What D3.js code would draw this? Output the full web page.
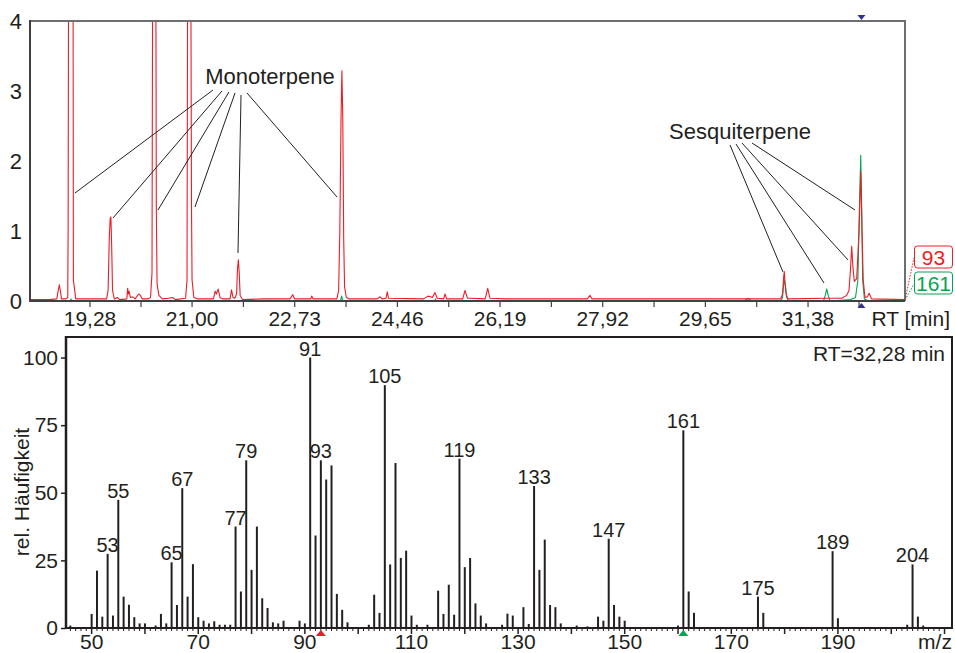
<!DOCTYPE html>
<html>
<head>
<meta charset="utf-8">
<script src="https://cdn.jsdelivr.net/npm/d3@7"></script>
<style>
  body { margin: 0; background: #fff; }
  svg text { font-family: "Liberation Sans", Arial, Helvetica, sans-serif; fill: #231f20; }
</style>
</head>
<body>
<svg id="chart" width="955" height="653"></svg>
<script>
// ---- chromatogram data (RT in min, intensity) ----
const rtTickLabels = ["19,28", "21,00", "22,73", "24,46", "26,19", "27,92", "29,65", "31,38"];
const intensityTicks = [0, 1, 2, 3, 4];

// ion trace m/z 93 (red)
const trace93 = [
  [18.27,0.02],[18.60,0.02],[18.72,0.03],[18.745,0.15],[18.763,0.23],[18.78,0.15],[18.80,0.03],
  [18.87,0.03],[18.905,0.05],[18.912,1.1],[18.918,4.5],[18.955,8],[18.995,4.5],[19.0,0.3],[19.04,0.03],
  [19.30,0.03],[19.56,0.03],[19.585,0.15],[19.605,0.9],[19.62,1.18],[19.632,1.2],[19.645,0.8],[19.66,0.15],[19.69,0.03],
  [19.74,0.05],[19.78,0.02],[19.90,0.03],[19.915,0.18],[19.925,0.1],[19.94,0.14],[19.96,0.05],[20.00,0.06],
  [20.04,0.03],[20.10,0.1],[20.13,0.08],[20.16,0.03],[20.26,0.03],
  [20.30,0.05],[20.325,0.4],[20.335,4.5],[20.365,9],[20.39,4.5],[20.398,1.3],[20.41,0.25],[20.44,0.08],[20.50,0.03],
  [20.60,0.04],[20.67,0.05],[20.72,0.02],
  [20.89,0.04],[20.915,0.3],[20.925,4.5],[20.953,9],[20.98,4.5],[20.99,1.4],[21.00,0.3],[21.03,0.05],[21.10,0.03],
  [21.36,0.03],[21.39,0.14],[21.41,0.1],[21.44,0.17],[21.47,0.05],[21.52,0.03],
  [21.64,0.03],[21.665,0.16],[21.69,0.05],
  [21.72,0.04],[21.75,0.1],[21.765,0.45],[21.78,0.59],[21.795,0.4],[21.81,0.08],[21.85,0.02],
  [22.20,0.03],[22.65,0.03],[22.696,0.09],[22.73,0.03],[23.00,0.03],[23.016,0.07],[23.04,0.03],
  [23.44,0.03],[23.47,0.15],[23.49,1.0],[23.51,2.6],[23.525,3.29],[23.54,2.6],[23.555,0.9],[23.57,0.2],[23.60,0.05],[23.65,0.03],
  [24.12,0.03],[24.167,0.06],[24.20,0.03],[24.27,0.04],[24.29,0.13],[24.31,0.04],
  [24.90,0.03],[24.976,0.07],[25.02,0.06],[25.05,0.05],[25.094,0.12],[25.13,0.04],[25.24,0.03],[25.262,0.1],[25.29,0.03],
  [25.56,0.03],[25.60,0.15],[25.64,0.04],[25.70,0.04],[25.94,0.03],[25.982,0.18],[26.02,0.04],[26.30,0.03],
  [27.66,0.03],[27.706,0.08],[27.74,0.03],[29.00,0.03],[30.37,0.03],
  [30.92,0.03],[30.95,0.1],[30.97,0.35],[30.98,0.42],[30.99,0.3],[31.01,0.1],[31.04,0.03],[31.69,0.04],
  [31.95,0.04],[32.03,0.08],[32.07,0.15],[32.095,0.45],[32.116,0.78],[32.135,0.5],[32.16,0.28],[32.20,0.32],
  [32.24,1.0],[32.268,1.85],[32.29,1.0],[32.31,0.3],[32.34,0.05],[32.38,0.06],[32.41,0.11],[32.45,0.03],[33.01,0.02]
];

// ion trace m/z 161 (green)
const trace161 = [
  [18.27,0],[18.95,0],[18.96,0.03],[18.97,0],[23.50,0],[23.52,0.07],[23.54,0],[25.09,0],[25.10,0.03],[25.11,0],
  [30.30,0],[30.374,0.04],[30.42,0],[30.92,0],[30.95,0.05],[30.97,0.25],[30.98,0.30],[31.00,0.2],[31.02,0.05],[31.05,0],
  [31.64,0],[31.67,0.08],[31.695,0.17],[31.72,0.08],[31.75,0],[32.10,0.02],[32.18,0.05],[32.22,0.3],
  [32.245,1.3],[32.268,2.08],[32.285,1.3],[32.30,0.3],[32.33,0.03],[32.40,0],[33.01,0]
];

const selectedRT = 32.28;

// annotation leader lines: [rtFrom, valueFrom, rtTo, valueTo]
const monoLines = [
  [21.353,3.014,19.027,1.543],[21.504,3.0,19.668,1.186],[21.622,2.986,20.426,1.3],
  [21.724,2.971,21.049,1.343],[21.825,2.943,21.774,0.686],[21.926,2.971,23.442,1.486]
];
const sesqLines = [
  [30.065,2.229,30.958,0.414],[30.166,2.243,31.649,0.257],[30.267,2.257,32.054,0.586],[30.436,2.257,32.172,1.3]
];

// ---- mass spectrum data ----
const mz = [46,50,51,52,53,54,55,56,57,58,59,60,62,63,64,65,66,67,68,69,70,71,72,73,74,75,76,77,78,79,80,81,82,83,84,85,86,
  89,90,91,92,93,94,95,96,97,98,102,103,104,105,106,107,108,109,110,111,113,115,116,117,118,119,120,121,122,123,124,
  127,128,129,131,132,133,134,135,136,137,138,141,143,145,146,147,148,149,150,160,161,162,163,175,176,189,190,203,204,205,206];
const abundance = [0.9,5.2,21.2,4.2,27.4,4.6,47.4,11.6,8.6,4.0,1.7,1.7,0.9,5.2,1.7,24.3,8.5,51.7,11.6,23.6,4.0,2.7,1.7,2.5,1.2,1.2,1.2,37.5,13.5,62.0,21.5,37.5,11.0,7.4,2.1,1.7,2.7,
  2.7,1.7,100,34.2,62,54.9,60.1,12.6,6.7,2.1,1.2,12.3,5.6,89.8,23.5,61,25.9,28.6,4.6,1.2,1.2,13.8,5.2,16,4.9,62.6,22.5,25.9,9.1,4.6,1.7,
  1.2,5.3,4.6,7.7,1.5,52.5,21.5,32.7,8.5,7.7,1.7,0.9,0.6,4.2,2.7,33,8.5,4.2,2.7,0.9,73.1,13.5,5.6,11.6,5.6,28.4,3.6,1.2,23.5,4.2,0.9];
const labelledPeaks = [53,55,65,67,77,79,91,93,105,119,133,147,161,175,189,204];
const mzTicks = [50,70,90,110,130,150,170,190];
const abundanceTicks = [0,25,50,75,100];

function parseComma(s) { return +s.replace(",", "."); }

function getConfig() {
  let svg = d3.select("#chart");
  let top = { left: 30, right: 905, top: 21, bottom: 301 };
  let bottom = { left: 66, right: 952, top: 337, bottom: 628 };
  return { svg, top, bottom };
}

function getScales(config) {
  let { top, bottom } = config;
  // 19,28 sits at x=90, 59.34 px per minute
  let rtScale = d3.scaleLinear().domain([18.269, 33.014]).range([top.left, top.right]);
  let intScale = d3.scaleLinear().domain([0, 4]).range([top.bottom, top.top]);
  let mzScale = d3.scaleLinear().domain([45.19, 211.4]).range([bottom.left, bottom.right]);
  let abScale = d3.scaleLinear().domain([0, 107.6]).range([bottom.bottom, bottom.top]);
  return { rtScale, intScale, mzScale, abScale };
}

function drawChromatogram(config, scales) {
  let { svg, top } = config;
  let { rtScale, intScale } = scales;

  svg.append("clipPath").attr("id", "clipTop")
    .append("rect")
    .attr("x", top.left).attr("y", top.top)
    .attr("width", top.right - top.left).attr("height", top.bottom - top.top + 1);

  let line = d3.line()
    .x(d => rtScale(d[0]))
    .y(d => intScale(d[1]));

  let g = svg.append("g").attr("clip-path", "url(#clipTop)");
  g.append("path").datum(trace161)
    .attr("d", line).attr("fill", "none")
    .attr("stroke", "#00a651").attr("stroke-width", 1.1).attr("stroke-linejoin", "round");
  g.append("path").datum(trace93)
    .attr("d", line).attr("fill", "none")
    .attr("stroke", "#ee1c25").attr("stroke-width", 1.1).attr("stroke-linejoin", "round");

  // frame
  svg.append("line").attr("x1", top.left).attr("x2", top.right).attr("y1", top.top).attr("y2", top.top)
    .attr("stroke", "#6d6e71").attr("stroke-width", 2);
  svg.append("line").attr("x1", top.right).attr("x2", top.right).attr("y1", top.top - 1).attr("y2", top.bottom)
    .attr("stroke", "#6d6e71").attr("stroke-width", 2);
  svg.append("line").attr("x1", top.left).attr("x2", top.left).attr("y1", top.top - 1).attr("y2", top.bottom + 1)
    .attr("stroke", "#414042").attr("stroke-width", 2);
  svg.append("line").attr("x1", top.left - 1).attr("x2", top.right).attr("y1", top.bottom).attr("y2", top.bottom)
    .attr("stroke", "#414042").attr("stroke-width", 2);

  // x ticks: labelled ones and halfway ones
  let rtTicks = rtTickLabels.map(parseComma);
  let step = rtTicks[1] - rtTicks[0];
  let minor = d3.pairs(rtTicks).map(p => (p[0] + p[1]) / 2);
  minor.push(rtTicks[rtTicks.length - 1] + step / 2);
  svg.selectAll(".rtTick")
    .data(rtTicks.concat(minor))
    .enter().append("line")
    .attr("class", "rtTick")
    .attr("x1", d => rtScale(d)).attr("x2", d => rtScale(d))
    .attr("y1", top.bottom).attr("y2", top.bottom + 6)
    .attr("stroke", "#414042").attr("stroke-width", 1.2);
  svg.selectAll(".rtLabel")
    .data(rtTickLabels)
    .enter().append("text")
    .attr("class", "rtLabel")
    .attr("x", d => rtScale(parseComma(d)))
    .attr("y", 326)
    .attr("text-anchor", "middle")
    .attr("font-size", 21)
    .text(d => d);
  svg.append("text").attr("x", 950).attr("y", 326).attr("text-anchor", "end")
    .attr("font-size", 21).text("RT [min]");

  // y labels
  svg.selectAll(".intLabel")
    .data(intensityTicks)
    .enter().append("text")
    .attr("class", "intLabel")
    .attr("x", 22)
    .attr("y", d => intScale(d))
    .attr("dy", "0.36em")
    .attr("text-anchor", "end")
    .attr("font-size", 22)
    .text(d => d);

  // selected scan markers
  let xs = rtScale(selectedRT);
  svg.append("path").attr("d", `M${xs - 4},${top.top - 6}L${xs + 4},${top.top - 6}L${xs},${top.top - 1}Z`)
    .attr("fill", "#2e3192");
  svg.append("path").attr("d", `M${xs - 4},${top.bottom + 7}L${xs + 4},${top.bottom + 7}L${xs},${top.bottom + 2}Z`)
    .attr("fill", "#2e3192");

  // annotations
  let annG = svg.append("g");
  annG.selectAll(".lead")
    .data(monoLines.concat(sesqLines))
    .enter().append("line")
    .attr("x1", d => rtScale(d[0])).attr("y1", d => intScale(d[1]))
    .attr("x2", d => rtScale(d[2])).attr("y2", d => intScale(d[3]))
    .attr("stroke", "#231f20").attr("stroke-width", 1);
  annG.append("text").attr("x", rtScale(22.313)).attr("y", intScale(3.1))
    .attr("text-anchor", "middle").attr("font-size", 22).text("Monoterpene");
  annG.append("text").attr("x", rtScale(30.234)).attr("y", intScale(2.32))
    .attr("text-anchor", "middle").attr("font-size", 22).text("Sesquiterpene");

  // trace legend boxes
  let legend = [
    { label: "93", color: "#ee1c25", y: 246 },
    { label: "161", color: "#00a651", y: 272 }
  ];
  legend.forEach(l => {
    svg.append("line")
      .attr("x1", top.right).attr("y1", top.bottom - 1)
      .attr("x2", 914).attr("y2", l.y + 12)
      .attr("stroke", l.color).attr("stroke-width", 1).attr("stroke-dasharray", "1.5,1.5");
    svg.append("rect").attr("x", 914.5).attr("y", l.y).attr("width", 38).attr("height", 22)
      .attr("rx", 3).attr("fill", "#fff").attr("stroke", l.color).attr("stroke-width", 1);
    svg.append("text").attr("x", 933.5).attr("y", l.y + 19)
      .attr("text-anchor", "middle").attr("font-size", 21)
      .style("fill", l.color).text(l.label);
  });
}

function drawSpectrum(config, scales) {
  let { svg, bottom } = config;
  let { mzScale, abScale } = scales;
  let peaks = mz.map((m, i) => ({ mz: m, value: abundance[i] }));

  // minor ticks every unit, longer every 10
  let unitTicks = d3.range(46, 211);
  svg.selectAll(".mzMinor")
    .data(unitTicks)
    .enter().append("line")
    .attr("x1", d => mzScale(d)).attr("x2", d => mzScale(d))
    .attr("y1", bottom.bottom).attr("y2", d => bottom.bottom + (d % 10 === 0 ? 6 : 3))
    .attr("stroke", "#231f20").attr("stroke-width", d => d % 10 === 0 ? 1.5 : 1);

  svg.selectAll(".bar")
    .data(peaks)
    .enter().append("line")
    .attr("class", "bar")
    .attr("x1", d => mzScale(d.mz)).attr("x2", d => mzScale(d.mz))
    .attr("y1", abScale(0)).attr("y2", d => abScale(d.value))
    .attr("stroke", "#231f20").attr("stroke-width", 2);

  svg.selectAll(".peakLabel")
    .data(peaks.filter(d => labelledPeaks.includes(d.mz)))
    .enter().append("text")
    .attr("class", "peakLabel")
    .attr("x", d => mzScale(d.mz))
    .attr("y", d => abScale(d.value) - 2)
    .attr("text-anchor", "middle")
    .attr("font-size", 20)
    .text(d => d.mz);

  // frame and axes
  svg.append("line").attr("x1", bottom.left).attr("x2", bottom.right + 1).attr("y1", bottom.top).attr("y2", bottom.top)
    .attr("stroke", "#231f20").attr("stroke-width", 2);
  svg.append("line").attr("x1", bottom.right).attr("x2", bottom.right).attr("y1", bottom.top).attr("y2", bottom.bottom)
    .attr("stroke", "#231f20").attr("stroke-width", 2);
  svg.append("line").attr("x1", bottom.left).attr("x2", bottom.left).attr("y1", bottom.top - 1).attr("y2", bottom.bottom + 1)
    .attr("stroke", "#231f20").attr("stroke-width", 2.5);
  svg.append("line").attr("x1", bottom.left).attr("x2", bottom.right + 1).attr("y1", bottom.bottom).attr("y2", bottom.bottom)
    .attr("stroke", "#231f20").attr("stroke-width", 2);

  // y axis
  let yAxis = svg.append("g")
    .attr("transform", "translate(" + bottom.left + ",0)")
    .call(d3.axisLeft(abScale).tickValues(abundanceTicks).tickSize(5).tickPadding(3));
  yAxis.select(".domain").remove();
  yAxis.selectAll("line").attr("stroke", "#231f20").attr("stroke-width", 1.5);
  yAxis.selectAll("text").attr("font-size", 21).attr("font-family", null).style("fill", "#231f20");

  svg.selectAll(".mzLabel")
    .data(mzTicks)
    .enter().append("text")
    .attr("x", d => mzScale(d))
    .attr("y", 649)
    .attr("text-anchor", "middle")
    .attr("font-size", 21)
    .text(d => d);
  svg.append("text").attr("x", 935).attr("y", 649).attr("text-anchor", "middle")
    .attr("font-size", 21).text("m/z");

  svg.append("text")
    .attr("transform", "translate(29,492) rotate(-90)")
    .attr("text-anchor", "middle")
    .attr("font-size", 21)
    .text("rel. Häufigkeit");

  svg.append("text").attr("x", 945).attr("y", 361).attr("text-anchor", "end")
    .attr("font-size", 21).text("RT=" + String(selectedRT).replace(".", ",") + " min");

  // ion markers on the m/z axis
  [{ m: 93, c: "#ee1c25" }, { m: 161, c: "#00a651" }].forEach(k => {
    let x = mzScale(k.m);
    svg.append("path").attr("d", `M${x - 5},${bottom.bottom + 8}L${x + 5},${bottom.bottom + 8}L${x},${bottom.bottom + 2}Z`)
      .attr("fill", k.c);
  });
}

function drawAll() {
  let config = getConfig();
  let scales = getScales(config);
  drawChromatogram(config, scales);
  drawSpectrum(config, scales);
}

drawAll();
</script>
</body>
</html>
